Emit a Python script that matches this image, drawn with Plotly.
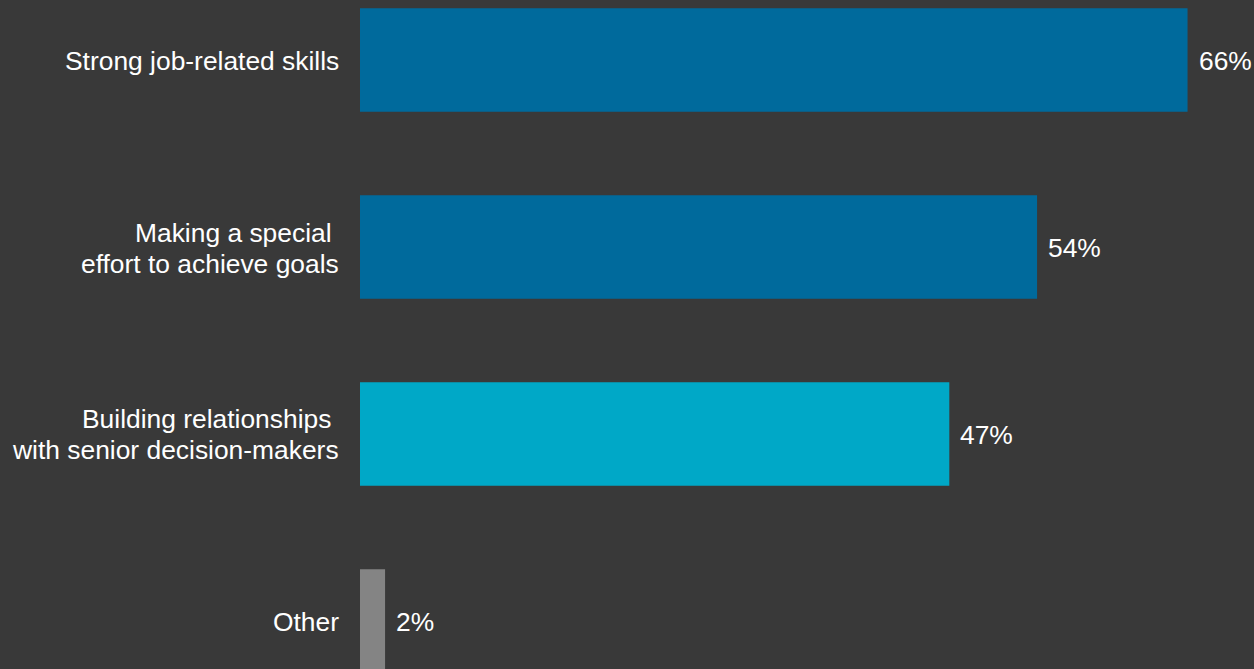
import plotly.graph_objects as go

# Survey responses: what helps people get ahead
categories = [
    "Strong job-related skills",
    "Making a special\u00a0<br>effort to achieve goals",
    "Building relationships\u00a0<br>with senior decision-makers",
    "Other",
]
values = [66, 54, 47, 2]
bar_colors = ["#006a9c", "#006a9c", "#00a8c7", "#848484"]

BG = "#393939"
FONT = "Liberation Sans, Arial, sans-serif"
FS = 26.4
LINE_GAP = 31

idx = list(range(len(categories)))

fig = go.Figure(
    go.Bar(
        x=values,
        y=idx,
        orientation="h",
        marker=dict(color=bar_colors, line=dict(width=0)),
        width=0.553,
        hoverinfo="skip",
    )
)

annotations = []
# category labels, one annotation per line so the line spacing can be set
for i, label in enumerate(categories):
    lines = label.split("<br>")
    n = len(lines)
    for k, line in enumerate(lines):
        annotations.append(
            dict(
                x=0, xref="paper", y=i, yref="y",
                text=line, showarrow=False,
                xanchor="right", yanchor="middle",
                xshift=-19, yshift=((n - 1) / 2 - k) * LINE_GAP - 1,
                font=dict(family=FONT, size=FS, color="#ffffff"),
            )
        )
# value labels at the bar ends
for i, v in enumerate(values):
    annotations.append(
        dict(
            x=v, xref="x", y=i, yref="y",
            text=f"{v}%", showarrow=False,
            xanchor="left", yanchor="middle",
            xshift=9, yshift=-1,
            font=dict(family=FONT, size=FS, color="#ffffff"),
        )
    )

fig.update_layout(
    width=1254,
    height=669,
    margin=dict(l=360, r=0, t=0, b=0, pad=0),
    paper_bgcolor=BG,
    plot_bgcolor=BG,
    showlegend=False,
    annotations=annotations,
    xaxis=dict(
        range=[0, 71.3], visible=False, showgrid=False, zeroline=False, fixedrange=True,
    ),
    yaxis=dict(
        range=[3.257, -0.321], visible=False, showgrid=False, zeroline=False, fixedrange=True,
    ),
)

fig.write_html("out.html", config={"displayModeBar": False})
